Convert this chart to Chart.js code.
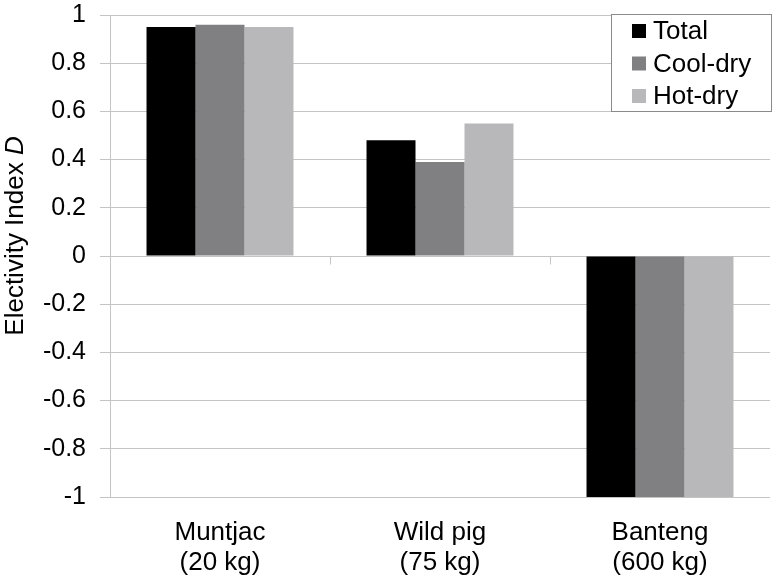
<!DOCTYPE html>
<html>
<head>
<meta charset="utf-8">
<script src="https://cdn.jsdelivr.net/npm/chart.js@4.4.1/dist/chart.umd.min.js"></script>
<style>
html,body{margin:0;padding:0;background:#fff;}
#wrap{width:776px;height:580px;position:relative;}
</style>
</head>
<body>
<div id="wrap"><canvas id="c" width="776" height="580"></canvas></div>
<script>
const categories = [["Muntjac", "(20 kg)"], ["Wild pig", "(75 kg)"], ["Banteng", "(600 kg)"]];
const seriesNames = ["Total", "Cool-dry", "Hot-dry"];
const totalValues = [0.95, 0.48, -1];
const coolDryValues = [0.96, 0.39, -1];
const hotDryValues = [0.95, 0.55, -1];
const seriesColors = ["#000000", "#808083", "#b8b8ba"];
const yTicks = [1, 0.8, 0.6, 0.4, 0.2, 0, -0.2, -0.4, -0.6, -0.8, -1];

const FONT = "'Liberation Sans', Arial, sans-serif";
const GRID = "#c4c4c4";

const extras = {
  id: 'extras',
  afterDraw(chart) {
    const ctx = chart.ctx;
    const x = chart.scales.x, y = chart.scales.y;
    const area = chart.chartArea;
    ctx.save();
    ctx.strokeStyle = GRID; ctx.lineWidth = 1;
    ctx.beginPath();
    ctx.moveTo(Math.round(area.left) + 0.5, area.top);
    ctx.lineTo(Math.round(area.left) + 0.5, area.bottom);
    ctx.stroke();
    const y0 = Math.round(y.getPixelForValue(0)) + 0.5;
    const n = categories.length;
    for (let i = 1; i < n; i++) {
      const px = Math.round(x.getPixelForValue(i - 0.5)) + 0.5;
      ctx.beginPath(); ctx.moveTo(px, y0); ctx.lineTo(px, y0 + 8); ctx.stroke();
    }
    ctx.fillStyle = "#000";
    ctx.textBaseline = "alphabetic";
    ctx.translate(23, 236);
    ctx.rotate(-Math.PI / 2);
    const f1 = "26px " + FONT, f2 = "italic 26px " + FONT;
    const t1 = "Electivity Index ", t2 = "D";
    ctx.font = f1; const w1 = ctx.measureText(t1).width;
    ctx.font = f2; const w2 = ctx.measureText(t2).width;
    let sx = -(w1 + w2) / 2;
    ctx.font = f1; ctx.textAlign = "left"; ctx.fillText(t1, sx, 0);
    ctx.font = f2; ctx.fillText(t2, sx + w1, 0);
    ctx.restore();

    ctx.save();
    const lx = 611, ly = 14, lw = 160, lh = 97;
    ctx.fillStyle = "#fff";
    ctx.fillRect(lx, ly, lw, lh);
    ctx.strokeStyle = "#8a8a8a"; ctx.lineWidth = 1;
    ctx.strokeRect(lx + 0.5, ly + 0.5, lw, lh);
    ctx.font = "26px " + FONT;
    ctx.textBaseline = "middle"; ctx.textAlign = "left";
    chart.data.datasets.forEach((ds, i) => {
      const cy = ly + 17 + i * 32.5;
      ctx.fillStyle = ds.backgroundColor;
      ctx.fillRect(lx + 21, cy - 7, 14, 14);
      ctx.fillStyle = "#000";
      ctx.fillText(ds.label, lx + 42, cy + 1);
    });
    ctx.restore();
  }
};

new Chart(document.getElementById('c'), {
  type: 'bar',
  data: {
    labels: categories,
    datasets: [
      { label: seriesNames[0], data: totalValues, backgroundColor: seriesColors[0] },
      { label: seriesNames[1], data: coolDryValues, backgroundColor: seriesColors[1] },
      { label: seriesNames[2], data: hotDryValues, backgroundColor: seriesColors[2] }
    ]
  },
  options: {
    responsive: false,
    animation: false,
    devicePixelRatio: 1,
    layout: { padding: { top: 15, right: 6, left: 0, bottom: 0 } },
    datasets: { bar: { barPercentage: 1, categoryPercentage: 0.668, borderWidth: 0 } },
    plugins: { legend: { display: false }, tooltip: { enabled: false } },
    scales: {
      x: {
        grid: { display: false, drawTicks: false },
        border: { display: false },
        ticks: { color: "#000", font: { family: FONT, size: 26, lineHeight: 1.15 }, padding: 21, maxRotation: 0 },
        afterFit(s) { s.height = 83; s.paddingLeft = 0; s.paddingRight = 0; }
      },
      y: {
        min: -1, max: 1,
        afterBuildTicks(s) { s.ticks = yTicks.map(v => ({ value: v })); },
        grid: { color: GRID, tickLength: 10, lineWidth: 1 },
        border: { display: false },
        ticks: { color: "#000", font: { family: FONT, size: 25 }, padding: 14, callback: v => String(Math.round(v * 10) / 10) },
        afterFit(s) { s.width = 110; s.paddingTop = 0; s.paddingBottom = 0; }
      }
    }
  },
  plugins: [extras]
});
</script>
</body>
</html>
